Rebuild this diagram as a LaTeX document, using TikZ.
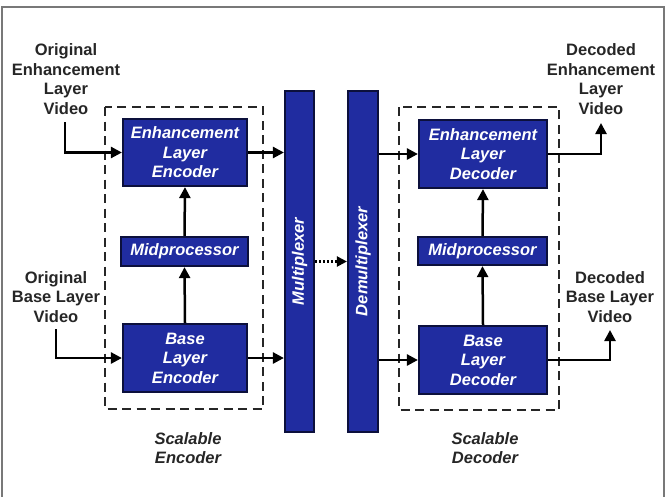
\documentclass[tikz,border=0pt]{standalone}
\usepackage{fontspec}
\setmainfont{Liberation Sans}
\usetikzlibrary{arrows.meta}
\definecolor{boxblue}{RGB}{32,44,160}
\definecolor{boxedge}{RGB}{12,16,60}
\definecolor{framegray}{RGB}{120,120,120}
\tikzset{
  blk/.style={draw=boxedge, line width=2.2pt, fill=boxblue, text=white,
    font=\fontsize{16.5}{19.5}\selectfont\bfseries\itshape, align=center,
    inner sep=0pt, anchor=center},
  lbl/.style={font=\fontsize{16.5}{19.5}\selectfont\bfseries, align=center, inner sep=0pt, text=black!85},
  captxt/.style={font=\fontsize{16.5}{19.5}\selectfont\bfseries\itshape, align=center, inner sep=0pt, text=black!85},
  vtxt/.style={text=white, font=\fontsize{16.5}{19.5}\selectfont\bfseries\itshape, rotate=90, inner sep=0pt},
  arr/.style={line width=2.5pt, -{Triangle[length=11pt,width=11pt]}},
  dbox/.style={draw=black!85, line width=2.3pt, dash pattern=on 9pt off 5.5pt},
}
\begin{document}
\begin{tikzpicture}[x=1pt,y=-1pt]
\useasboundingbox (0,0) rectangle (668,496);
\fill[white] (0,0) rectangle (668,496);
\draw[framegray, line width=2pt] (1.5,497) -- (1.5,7) -- (664,7) -- (664,497);

% dashed boxes
\draw[dbox] (105,107) rectangle (263,409);
\draw[dbox] (399,107) rectangle (559,410);

% encoder blocks
\node[blk, minimum width=124pt, minimum height=67pt] (ele) at (185,152.5) {Enhancement\\Layer\\Encoder};
\node[blk, minimum width=127pt, minimum height=29pt] (mpe) at (184.5,251.5) {Midprocessor};
\node[blk, minimum width=124pt, minimum height=68pt] (ble) at (185,358) {Base\\Layer\\Encoder};

% mux / demux
\node[blk, minimum width=29pt, minimum height=341pt] (mux) at (299.5,261.5) {};
\node[vtxt] (muxt) at (mux.center) {Multiplexer};
\node[blk, minimum width=30pt, minimum height=341pt] (demux) at (363,261.5) {};
\node[vtxt] (demuxt) at (demux.center) {Demultiplexer};

% decoder blocks
\node[blk, minimum width=128pt, minimum height=68pt] (eld) at (483,154) {Enhancement\\Layer\\Decoder};
\node[blk, minimum width=129pt, minimum height=28pt] (mpd) at (482.5,251) {Midprocessor};
\node[blk, minimum width=128pt, minimum height=68pt] (bld) at (483,360) {Base\\Layer\\Decoder};

% labels
\node[lbl] (lEL) at (66,79) {Original\\Enhancement\\Layer\\Video};
\node[lbl] (lBL) at (56,297) {Original\\Base Layer\\Video};
\node[lbl] (lDEL) at (601,79) {Decoded\\Enhancement\\Layer\\Video};
\node[lbl] (lDBL) at (610,297) {Decoded\\Base Layer\\Video};
\node[captxt] (cEnc) at (188,448) {Scalable\\Encoder};
\node[captxt] (cDec) at (485,448) {Scalable\\Decoder};

% coordinates for free ends
\coordinate (inEL) at (65,122);
\coordinate (inBL) at (56,329);
\coordinate (outEL) at (601,123);
\coordinate (outBL) at (610,330);

% input arrows
\draw[arr] (inEL) |- (ele.west);
\draw[arr] (inBL) |- (ble.west);
% encoder internal
\draw[arr] (ble.north) -- (mpe.south);
\draw[arr] (mpe.north) -- (ele.south);
% to mux
\draw[arr] (ele.east) -- (ele.east -| mux.west);
\draw[arr] (ble.east) -- (ble.east -| mux.west);
% mux to demux
\draw[line width=2.2pt, dash pattern=on 2pt off 2pt, -{Triangle[length=10pt,width=10pt]}] (mux.east) -- (demux.west);
% demux to decoders
\draw[arr] (eld.west -| demux.east) -- (eld.west);
\draw[arr] (bld.west -| demux.east) -- (bld.west);
% decoder internal
\draw[arr] (bld.north) -- (mpd.south);
\draw[arr] (mpd.north) -- (eld.south);
% outputs
\draw[arr] (eld.east) -| (outEL);
\draw[arr] (bld.east) -| (outBL);
\end{tikzpicture}
\end{document}
